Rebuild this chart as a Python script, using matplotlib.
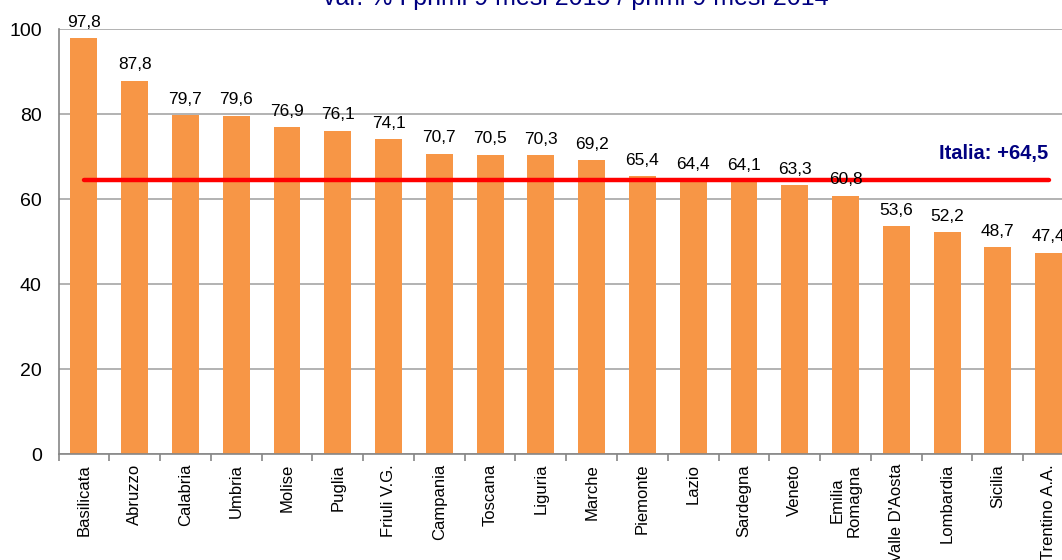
import matplotlib
matplotlib.use("Agg")
import matplotlib.pyplot as plt
import numpy as np

plt.rcParams['font.family'] = ['Liberation Sans', 'DejaVu Sans']

# dati per regione (var. % primi 9 mesi 2015 / primi 9 mesi 2014)
regioni = ["Basilicata", "Abruzzo", "Calabria", "Umbria", "Molise", "Puglia",
           "Friuli V.G.", "Campania", "Toscana", "Liguria", "Marche", "Piemonte",
           "Lazio", "Sardegna", "Veneto", "Emilia\nRomagna", "Valle D'Aosta",
           "Lombardia", "Sicilia", "Trentino A.A."]
valori = [97.8, 87.8, 79.7, 79.6, 76.9, 76.1, 74.1, 70.7, 70.5, 70.3,
          69.2, 65.4, 64.4, 64.1, 63.3, 60.8, 53.6, 52.2, 48.7, 47.4]
italia = 64.5
titolo = "var. % I primi 9 mesi 2015 / primi 9 mesi 2014"

fig = plt.figure(figsize=(10.62, 5.6), dpi=100)
ax = fig.add_axes([0.0551, 0.189, 0.9562, 0.759])

x = np.arange(len(regioni))
ax.bar(x, valori, width=0.53, color="#F79646", zorder=2)

for xi, v in zip(x, valori):
    ax.text(xi, v + 2.0, f"{v:.1f}".replace(".", ","), ha="center", va="bottom",
            fontsize=12.5, color="black", zorder=4)

ax.hlines(italia, 0, len(regioni) - 1, color="#FF0000", linewidth=3.2,
          zorder=3, capstyle="round")
ax.text(len(regioni) - 1.0, 70.8, "Italia: +64,5", ha="right", va="center",
        fontsize=14.5, fontweight="bold", color="#000080")

ax.set_xlim(-0.5, len(regioni) - 0.5)
ax.set_ylim(0, 100)
ax.set_yticks([0, 20, 40, 60, 80, 100])
ax.yaxis.grid(True, color="#A6A6A6", linewidth=1.2, zorder=0)
ax.set_axisbelow(True)

ax.set_xticks(x)
ax.set_xticklabels(regioni, rotation=90, fontsize=12, ha="center", va="top",
                   multialignment="center")
ax.set_xticks(np.arange(-0.5, len(regioni), 1), minor=True)
ax.tick_params(axis="x", which="major", length=0, pad=7)
ax.tick_params(axis="x", which="minor", length=5, color="#868686", width=1.2)
ax.tick_params(axis="y", length=0, labelsize=14, pad=12)

for s in ["top", "right"]:
    ax.spines[s].set_visible(False)
for s in ["left", "bottom"]:
    ax.spines[s].set_color("#868686")
    ax.spines[s].set_linewidth(1.2)

fig.text(0.542, 0.991, titolo, ha="center", va="baseline", fontsize=18,
         color="#000080")

fig.savefig("out.png", dpi=100)
